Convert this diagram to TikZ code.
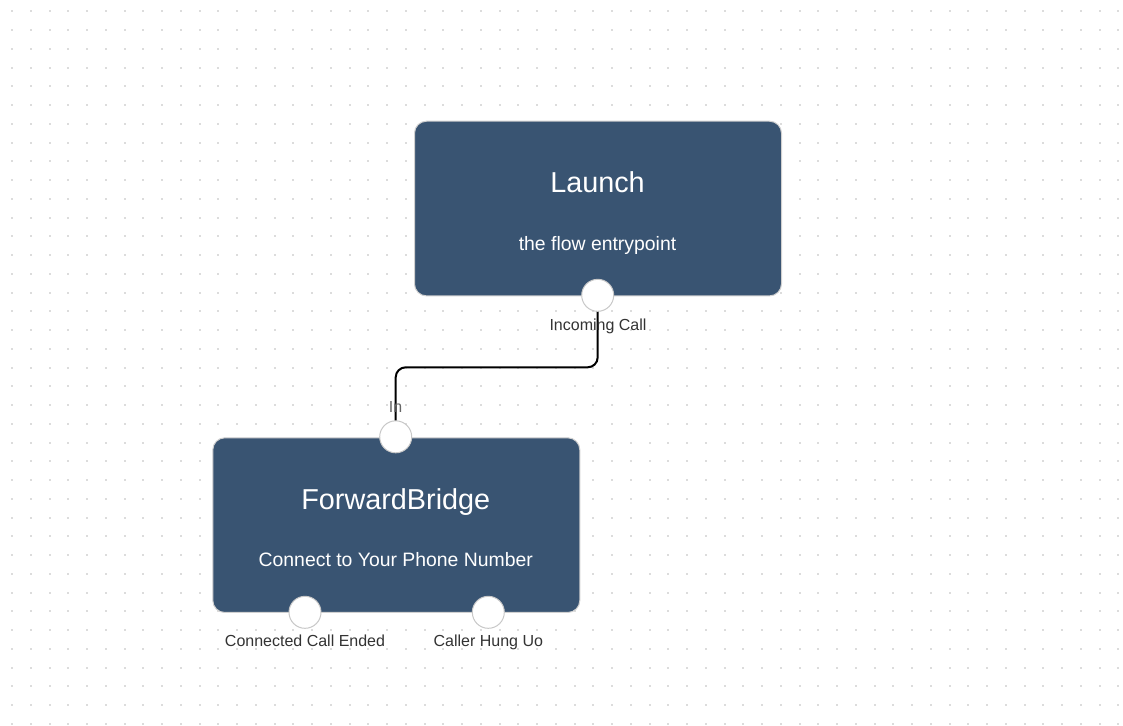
\documentclass[tikz,border=0pt]{standalone}
\usepackage{fontspec}
\setmainfont{Liberation Sans}
\definecolor{boxfill}{HTML}{395472}
\definecolor{boxline}{HTML}{D0D0D0}
\definecolor{dotcol}{HTML}{DCDCDC}
\definecolor{portline}{HTML}{C8C8C8}
\definecolor{labcol}{HTML}{333333}
\definecolor{inlab}{HTML}{666666}
\begin{document}
\begin{tikzpicture}[x=0.75pt,y=-0.75pt,
  flowbox/.style={draw=boxline,line width=0.75pt,fill=boxfill,rounded corners=9pt,
    minimum width=275.25pt,minimum height=131pt,inner sep=0pt,anchor=north west},
  titletext/.style={text=white,font=\fontsize{21.6pt}{24pt}\selectfont,anchor=base,inner sep=0pt},
  subtext/.style={text=white,font=\fontsize{14.55pt}{17pt}\selectfont,anchor=base,inner sep=0pt},
  port/.style={circle,draw=portline,line width=0.75pt,fill=white,minimum size=24pt,inner sep=0pt},
  portlab/.style={text=labcol,font=\fontsize{12pt}{14pt}\selectfont,anchor=base,inner sep=0pt},
  wire/.style={draw=black,line width=1.5pt,rounded corners=7.5pt}]
\useasboundingbox (0,0) rectangle (1123,725);
\fill[white] (0,0) rectangle (1123,725);
\foreach \i in {0,...,59}{
  \foreach \j in {0,...,38}{
    \fill[dotcol] ({12.2+18.75*\i-1},{11.3+18.75*\j-1}) rectangle ++(2,2);
  }
}
% boxes
\node[flowbox] (launch) at (414,120.7) {};
\node[flowbox] (fwd) at (212.3,437.3) {};
\node[titletext] (launchT) at (597.5,192.7) {Launch};
\node[subtext] (launchS) at (597.5,250) {the flow entrypoint};
\node[titletext] (fwdT) at (395.8,509.3) {ForwardBridge};
\node[subtext] (fwdS) at (395.8,566.6) {Connect to Your Phone Number};
% port coordinates
\coordinate (lpc) at (597.7,295.3);
\coordinate (ipc) at (395.7,436.8);
\coordinate (mid) at (0,367.3);
% connector
\draw[wire] (lpc) -- (lpc |- mid) -- (ipc |- mid) -- (ipc);
% labels
\node[portlab] (incl) at (598,330) {Incoming Call};
\node[portlab,text=inlab] (inl) at (395.5,412.7) {In};
\node[portlab] (ccel) at (305,646.7) {Connected Call Ended};
\node[portlab] (chul) at (488.3,646.7) {Caller Hung Uo};
% ports
\node[port] (lp) at (lpc) {};
\node[port] (ip) at (ipc) {};
\node[port] (cp1) at (305,612.3) {};
\node[port] (cp2) at (488.3,612.3) {};
\end{tikzpicture}
\end{document}
